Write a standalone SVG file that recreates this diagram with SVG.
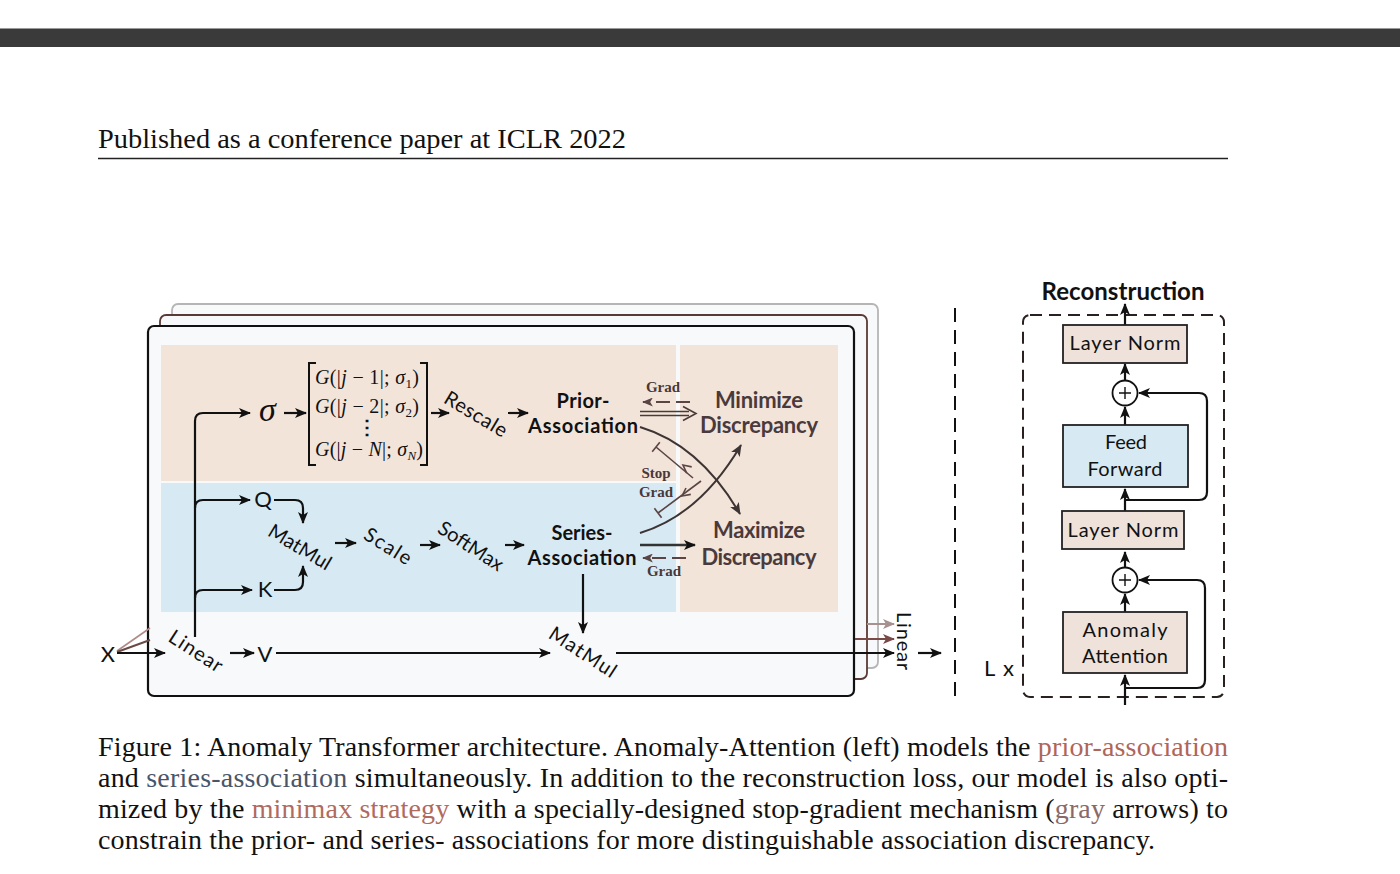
<svg xmlns="http://www.w3.org/2000/svg" width="1400" height="874" viewBox="0 0 1400 874">
<defs>
<style>
.cap{font-family:"Liberation Serif","Times New Roman",serif;font-size:28px;fill:#111;}
.lbl{font-family:Lato,"Noto Sans",sans-serif;font-size:20px;fill:#111;}
.big{font-size:22px;}
.bl{font-family:Lato,"Noto Sans",sans-serif;font-size:20px;font-weight:bold;fill:#111;}
.rec{font-size:24px;}
.disc{font-family:Lato,"Noto Sans",sans-serif;font-size:22px;font-weight:bold;fill:#4a3a3c;}
.grad{font-family:"Liberation Serif","Times New Roman",serif;font-weight:bold;font-size:15px;fill:#4a3838;}
.mx{font-family:"Liberation Serif","Times New Roman",serif;font-size:20px;fill:#111;}
.ln{fill:none;stroke:#111;stroke-width:2.2;}
.arr{marker-end:url(#ah);}
.gl{fill:none;stroke:#5a4444;stroke-width:1.6;}
.arc{fill:none;stroke:#3d3434;stroke-width:2;marker-end:url(#ahb);}
.box{stroke:#222;stroke-width:1.8;}
</style>
<marker id="ah" viewBox="0 0 12 10" refX="11" refY="5" markerWidth="12" markerHeight="10" markerUnits="userSpaceOnUse" orient="auto"><path d="M0,0 L12,5 L0,10 L3,5 z" fill="#111"/></marker>
<marker id="ahb" viewBox="0 0 12 10" refX="11" refY="5" markerWidth="12" markerHeight="10" markerUnits="userSpaceOnUse" orient="auto"><path d="M0,0 L12,5 L0,10 L3,5 z" fill="#3d3434"/></marker>
<marker id="ahg" viewBox="0 0 12 10" refX="11" refY="5" markerWidth="11" markerHeight="9" markerUnits="userSpaceOnUse" orient="auto"><path d="M0,0 L12,5 L0,10 L3,5 z" fill="#5a4444"/></marker>
<marker id="ahp" viewBox="0 0 12 10" refX="11" refY="5" markerWidth="12" markerHeight="10" markerUnits="userSpaceOnUse" orient="auto"><path d="M0,0 L12,5 L0,10 L3,5 z" fill="#a89090"/></marker>
<marker id="ahr" viewBox="0 0 12 10" refX="11" refY="5" markerWidth="12" markerHeight="10" markerUnits="userSpaceOnUse" orient="auto"><path d="M0,0 L12,5 L0,10 L3,5 z" fill="#7a4a46"/></marker>
</defs>

<rect width="1400" height="874" fill="#ffffff"/>
<!-- top bar -->
<rect x="0" y="28" width="1400" height="19" fill="#3a3a3a"/>
<line x1="0" y1="28.5" x2="1400" y2="28.5" stroke="#9a9a9a" stroke-width="1"/>

<!-- header -->
<g id="header">
<text class="cap" x="98" y="148" textLength="528" lengthAdjust="spacingAndGlyphs">Published as a conference paper at ICLR 2022</text>
<line x1="98" y1="158.5" x2="1228" y2="158.5" stroke="#222" stroke-width="1.6"/>
</g>

<!-- stacked cards -->
<g id="cards">
<rect x="172" y="304" width="706" height="364" rx="6" fill="#f8f9fa" stroke="#b5b5b5" stroke-width="1.8"/>
<rect x="160" y="315" width="707" height="364" rx="6" fill="#f7f8fa" stroke="#5a3a36" stroke-width="1.8"/>
<rect x="148" y="326" width="706" height="370" rx="6" fill="#f7f9fb" stroke="#111" stroke-width="2.2"/>
<rect x="161" y="345" width="515" height="136" fill="#f3e4da"/>
<rect x="161" y="483" width="515" height="129" fill="#d7eaf4"/>
<rect x="680" y="345" width="158" height="267" fill="#f3e4da"/>
</g>

<!-- connectors -->
<g id="connectors">
<path class="ln arr" d="M195,637 V421 Q195,413 203,413 H250"/>
<path class="ln arr" d="M195,508 Q195,500 203,500 H250"/>
<path class="ln arr" d="M195,598 Q195,590 203,590 H252"/>
<path class="ln arr" d="M274,500 H295 Q303,500 303,508 V523"/>
<path class="ln arr" d="M274,590 H295 Q303,590 303,582 V566"/>
<path class="ln arr" d="M284,413 H306"/>
<path class="ln arr" d="M431,413 H449"/>
<path class="ln arr" d="M508,413 H528"/>
<path class="ln arr" d="M335,543 H356"/>
<path class="ln arr" d="M420,545 H440"/>
<path class="ln arr" d="M505,545 H524"/>
<path class="ln arr" d="M583,574 V633"/>
<!-- grad dashed arrows -->
<path d="M690,402 H643" fill="none" stroke="#5a4444" stroke-width="1.8" stroke-dasharray="14 6" marker-end="url(#ahg)"/>
<path d="M686,558 H643" fill="none" stroke="#5a4444" stroke-width="1.8" stroke-dasharray="14 6" marker-end="url(#ahg)"/>
<!-- prior -> minimize double arrow -->
<g fill="none" stroke="#4a3a3a" stroke-width="1.6">
<line x1="640" y1="411.5" x2="689" y2="411.5"/>
<line x1="640" y1="415.5" x2="689" y2="415.5"/>
<path d="M683,406.5 L696,413.5 L683,420.5"/>
</g>
<!-- series -> maximize -->
<path d="M640,545 H695" fill="none" stroke="#333" stroke-width="2.6" marker-end="url(#ah)"/>
<!-- crossing arcs -->
<path class="arc" d="M640,427 Q700,445 740,514"/>
<path class="arc" d="M640,533 Q700,515 741,445"/>
<!-- stop grad gray -->
<line class="gl" x1="693" y1="478" x2="656" y2="447"/>
<line class="gl" x1="659.8" y1="442.3" x2="652.2" y2="451.7"/>
<path class="gl" d="M691.7,466.9 L683,465 L686.7,473.1"/>
<line class="gl" x1="701" y1="481" x2="658" y2="513"/>
<line class="gl" x1="654.4" y1="508.2" x2="661.6" y2="517.8"/>
<path class="gl" d="M690.8,494.4 L682,496 L686,488"/>
<!-- X fan -->
<line x1="117" y1="651" x2="150" y2="628" stroke="#b08a86" stroke-width="1.6"/>
<line x1="117" y1="652" x2="150" y2="640" stroke="#6a4a46" stroke-width="2"/>
<path class="ln arr" d="M117,653 H165"/>
<path class="ln arr" d="M230,653 H254"/>
<path class="ln arr" d="M276,653 H550"/>
<path class="ln arr" d="M616,653 H894"/>
<path d="M867,624 H894" fill="none" stroke="#a89090" stroke-width="2" marker-end="url(#ahp)"/>
<path d="M855,639 H894" fill="none" stroke="#7a4a46" stroke-width="2" marker-end="url(#ahr)"/>
<path class="ln arr" d="M918,653 H941"/>
<line x1="955" y1="308" x2="955" y2="702" stroke="#111" stroke-width="2" stroke-dasharray="14 8"/>
<!-- right panel -->
<rect x="1023" y="315" width="201" height="382" rx="7" fill="none" stroke="#2a2020" stroke-width="2" stroke-dasharray="12 7"/>
<path class="ln arr" d="M1125,325 V304"/>
<path class="ln arr" d="M1125,380 V364"/>
<path class="ln arr" d="M1125,425 V407"/>
<path class="ln arr" d="M1125,500 H1199 Q1207,500 1207,492 V401 Q1207,393 1199,393 H1139"/>
<path class="ln arr" d="M1125,511 V489"/>
<path class="ln arr" d="M1125,567 V552"/>
<path class="ln arr" d="M1125,612 V594"/>
<path class="ln arr" d="M1125,705 V675"/>
<path class="ln arr" d="M1125,688 H1197 Q1205,688 1205,680 V588 Q1205,580 1197,580 H1139"/>
</g>

<!-- prior branch nodes -->
<g id="sigma"><text x="259" y="421" font-family="'Liberation Serif',serif" font-style="italic" font-size="34" fill="#111">σ</text></g>
<g id="gauss-matrix">
<path d="M316,363 H309 V465 H316 M420,363 H427 V465 H420" fill="none" stroke="#111" stroke-width="2"/>
<text class="mx" x="367" y="384" text-anchor="middle" textLength="104"><tspan font-style="italic">G</tspan>(|<tspan font-style="italic">j</tspan> − 1|; <tspan font-style="italic">σ</tspan><tspan font-size="13" dy="4">1</tspan><tspan dy="-4">)</tspan></text>
<text class="mx" x="367" y="413" text-anchor="middle" textLength="104"><tspan font-style="italic">G</tspan>(|<tspan font-style="italic">j</tspan> − 2|; <tspan font-style="italic">σ</tspan><tspan font-size="13" dy="4">2</tspan><tspan dy="-4">)</tspan></text>
<text class="mx" x="367" y="434" text-anchor="middle" font-weight="bold">⋮</text>
<text class="mx" x="369" y="456" text-anchor="middle" textLength="108"><tspan font-style="italic">G</tspan>(|<tspan font-style="italic">j</tspan> − <tspan font-style="italic">N</tspan>|; <tspan font-style="italic">σ</tspan><tspan font-size="13" dy="4" font-style="italic">N</tspan><tspan dy="-4">)</tspan></text>
</g>
<g id="rescale"><text class="lbl" x="476" y="414" dy="0.35em" text-anchor="middle" transform="rotate(31 476 414)" textLength="70">Rescale</text></g>
<g id="prior-association">
<text class="bl" x="583" y="408" text-anchor="middle" textLength="53">Prior-</text>
<text class="bl" x="583" y="433" text-anchor="middle" textLength="110">Association</text>
</g>
<g id="minimize">
<text class="disc" x="759" y="408" text-anchor="middle" textLength="88">Minimize</text>
<text class="disc" x="759" y="433" text-anchor="middle" textLength="118">Discrepancy</text>
</g>
<g id="grad-labels">
<text class="grad" x="663" y="392" text-anchor="middle">Grad</text>
<text class="grad" x="656" y="478" text-anchor="middle">Stop</text>
<text class="grad" x="656" y="497" text-anchor="middle">Grad</text>
<text class="grad" x="664" y="576" text-anchor="middle">Grad</text>
</g>

<!-- series branch nodes -->
<g id="q"><text class="lbl big" x="263" y="507" text-anchor="middle">Q</text></g>
<g id="k"><text class="lbl big" x="265" y="597" text-anchor="middle">K</text></g>
<g id="matmul1"><text class="lbl" x="300" y="547" dy="0.35em" text-anchor="middle" transform="rotate(31 300 547)" textLength="70">MatMul</text></g>
<g id="scale"><text class="lbl" x="388" y="546" dy="0.35em" text-anchor="middle" transform="rotate(32 388 546)" textLength="52">Scale</text></g>
<g id="softmax"><text class="lbl" x="471" y="546" dy="0.35em" text-anchor="middle" transform="rotate(33 471 546)" textLength="74">SoftMax</text></g>
<g id="series-association">
<text class="bl" x="582" y="540" text-anchor="middle" textLength="61">Series-</text>
<text class="bl" x="582" y="565" text-anchor="middle" textLength="109">Association</text>
</g>
<g id="maximize">
<text class="disc" x="759" y="538" text-anchor="middle" textLength="92">Maximize</text>
<text class="disc" x="759" y="565" text-anchor="middle" textLength="115">Discrepancy</text>
</g>

<!-- bottom row nodes -->
<g id="x"><text class="lbl big" x="108" y="662" text-anchor="middle">X</text></g>
<g id="linear1"><text class="lbl" x="196" y="651" dy="0.35em" text-anchor="middle" transform="rotate(33 196 651)" textLength="60">Linear</text></g>
<g id="v"><text class="lbl big" x="265" y="662" text-anchor="middle">V</text></g>
<g id="matmul2"><text class="lbl" x="583" y="652" dy="0.35em" text-anchor="middle" transform="rotate(33 583 652)" textLength="76">MatMul</text></g>
<g id="linear2"><text class="lbl" x="904" y="641" dy="0.35em" text-anchor="middle" transform="rotate(90 904 641)" textLength="58">Linear</text></g>

<!-- right panel nodes -->
<g id="reconstruction"><text class="bl rec" x="1123" y="300" text-anchor="middle" textLength="163">Reconstruction</text></g>
<g id="layernorm-top">
<rect class="box" x="1063" y="325" width="124" height="38" fill="#efe2da"/>
<text class="lbl" x="1125" y="350" text-anchor="middle" textLength="111">Layer Norm</text>
</g>
<g id="add-top">
<circle cx="1125" cy="393" r="12.5" fill="#fff" stroke="#111" stroke-width="1.8"/>
<path d="M1119,393 H1131 M1125,387 V399" stroke="#111" stroke-width="1.4"/>
</g>
<g id="feed-forward">
<rect class="box" x="1063" y="425" width="125" height="62" fill="#d7eaf4"/>
<text class="lbl" x="1126" y="449" text-anchor="middle" textLength="42">Feed</text>
<text class="lbl" x="1125" y="476" text-anchor="middle" textLength="75">Forward</text>
</g>
<g id="layernorm-bottom">
<rect class="box" x="1062" y="511" width="122" height="38" fill="#efe2da"/>
<text class="lbl" x="1123" y="537" text-anchor="middle" textLength="111">Layer Norm</text>
</g>
<g id="add-bottom">
<circle cx="1125" cy="580" r="12.5" fill="#fff" stroke="#111" stroke-width="1.8"/>
<path d="M1119,580 H1131 M1125,574 V586" stroke="#111" stroke-width="1.4"/>
</g>
<g id="anomaly-attention">
<rect class="box" x="1063" y="612" width="124" height="61" fill="#efe2da"/>
<text class="lbl" x="1125" y="637" text-anchor="middle" textLength="85">Anomaly</text>
<text class="lbl" x="1125" y="663" text-anchor="middle" textLength="86">Attention</text>
</g>
<g id="lx"><text class="lbl big" x="984" y="676" textLength="30">L x</text></g>

<!-- caption -->
<g id="caption">
<text class="cap" x="98" y="756" textLength="1130" lengthAdjust="spacing">Figure 1:  Anomaly Transformer architecture.  Anomaly-Attention (left) models the <tspan fill="#b0655a">prior-association</tspan></text>
<text class="cap" x="98" y="787" textLength="1130" lengthAdjust="spacing">and <tspan fill="#4b5568">series-association</tspan> simultaneously. In addition to the reconstruction loss, our model is also opti-</text>
<text class="cap" x="98" y="818" textLength="1130" lengthAdjust="spacing">mized by the <tspan fill="#b06a5e">minimax strategy</tspan> with a specially-designed stop-gradient mechanism (<tspan fill="#8a6a66">gray</tspan> arrows) to</text>
<text class="cap" x="98" y="849" textLength="1057" lengthAdjust="spacing">constrain the prior- and series- associations for more distinguishable association discrepancy.</text>
</g>
</svg>
